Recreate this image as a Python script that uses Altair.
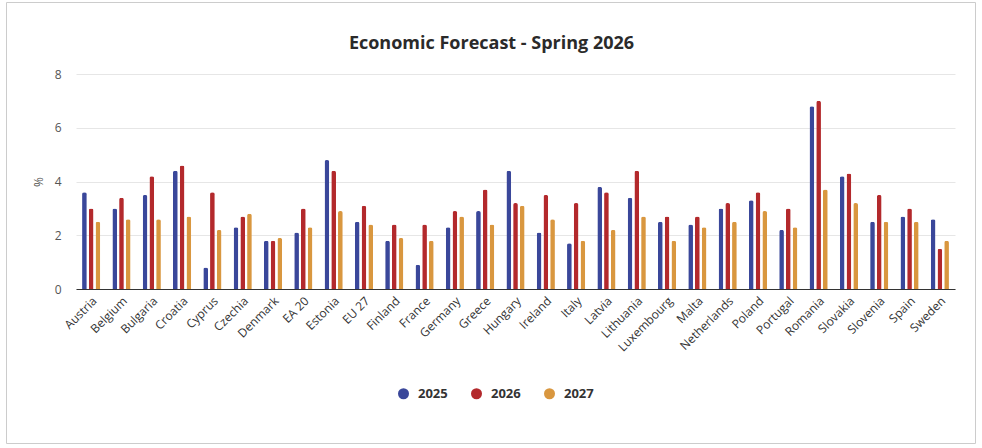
import altair as alt
import pandas as pd

countries = ["Austria", "Belgium", "Bulgaria", "Croatia", "Cyprus", "Czechia", "Denmark",
             "EA 20", "Estonia", "EU 27", "Finland", "France", "Germany", "Greece", "Hungary",
             "Ireland", "Italy", "Latvia", "Lithuania", "Luxembourg", "Malta", "Netherlands",
             "Poland", "Portugal", "Romania", "Slovakia", "Slovenia", "Spain", "Sweden"]
years = ["2025", "2026", "2027"]
v2025 = [3.6, 3.0, 3.5, 4.4, 0.8, 2.3, 1.8, 2.1, 4.8, 2.5, 1.8, 0.9, 2.3, 2.9, 4.4,
         2.1, 1.7, 3.8, 3.4, 2.5, 2.4, 3.0, 3.3, 2.2, 6.8, 4.2, 2.5, 2.7, 2.6]
v2026 = [3.0, 3.4, 4.2, 4.6, 3.6, 2.7, 1.8, 3.0, 4.4, 3.1, 2.4, 2.4, 2.9, 3.7, 3.2,
         3.5, 3.2, 3.6, 4.4, 2.7, 2.7, 3.2, 3.6, 3.0, 7.0, 4.3, 3.5, 3.0, 1.5]
v2027 = [2.5, 2.6, 2.6, 2.7, 2.2, 2.8, 1.9, 2.3, 2.9, 2.4, 1.9, 1.8, 2.7, 2.4, 3.1,
         2.6, 1.8, 2.2, 2.7, 1.8, 2.3, 2.5, 2.9, 2.3, 3.7, 3.2, 2.5, 2.5, 1.8]
colors = ["#3A479A", "#B3292C", "#D9973F"]
y_ticks = [0, 2, 4, 6, 8]

rows = []
for i, c in enumerate(countries):
    for yr, vals in zip(years, [v2025, v2026, v2027]):
        rows.append({"country": c, "year": yr, "value": vals[i]})
df = pd.DataFrame(rows)

FONT = "Open Sans"

bars = alt.Chart(df).mark_bar(cornerRadiusTopLeft=2, cornerRadiusTopRight=2).encode(
    x=alt.X("country:N", sort=countries, title=None,
            scale=alt.Scale(paddingInner=0.4, paddingOuter=0.2),
            axis=alt.Axis(labelAngle=-45, ticks=False, domainColor="#333333", domainWidth=1,
                          labelColor="#333333", labelFontSize=12, labelPadding=6, grid=False,
                          labelFont=FONT)),
    xOffset=alt.XOffset("year:N", sort=years, scale=alt.Scale(paddingInner=0.3)),
    y=alt.Y("value:Q", title="%", scale=alt.Scale(domain=[0, 8]),
            axis=alt.Axis(values=y_ticks, domain=False, ticks=False, gridColor="#e6e6e6",
                          labelColor="#555555", labelFontSize=12, labelPadding=15,
                          titleColor="#555555", titleFontSize=12, titleFontWeight="normal",
                          titlePadding=9, labelFont=FONT, titleFont=FONT)),
    color=alt.Color("year:N", scale=alt.Scale(domain=years, range=colors),
                    legend=alt.Legend(title=None, orient="none", legendX=321, legendY=313,
                                      direction="horizontal", symbolType="circle",
                                      symbolSize=121, symbolOpacity=1, symbolStrokeWidth=0,
                                      labelFontSize=13, labelFontWeight="bold",
                                      labelColor="#333333", labelOffset=8, columnPadding=22,
                                      labelFont=FONT)),
)

border = alt.Chart(alt.Data(values=[{"a": 1}])).mark_rect(
    fill="transparent", stroke="#cccccc", strokeWidth=1
).encode(x=alt.value(-69.5), x2=alt.value(899.5), y=alt.value(-71.5), y2=alt.value(369.5))

chart = alt.layer(border, bars).properties(
    width=879, height=215,
    padding={"left": 76, "top": 74, "right": 27, "bottom": 159},
    autosize=alt.AutoSizeParams(type="none"),
    background="white",
    title=alt.TitleParams("Economic Forecast - Spring 2026", font=FONT, fontSize=18,
                          fontWeight="bold", color="#2a2a2a", anchor="middle",
                          dx=-24, baseline="alphabetic", offset=-65),
).configure_view(stroke=None)

chart.save("out.html", embed_options={"renderer": "svg", "actions": False})
